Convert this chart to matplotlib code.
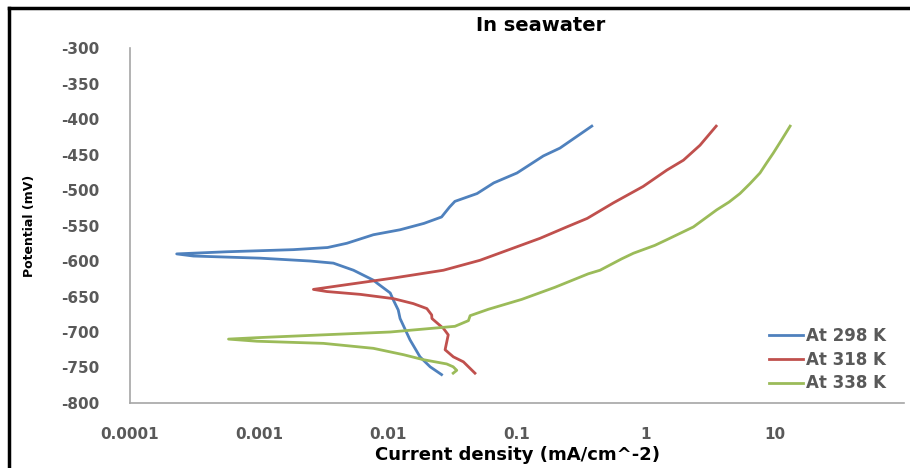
import matplotlib
matplotlib.use("Agg")
import matplotlib.pyplot as plt
from matplotlib.lines import Line2D

plt.rcParams['font.family'] = ['DejaVu Sans']
plt.rcParams['axes.unicode_minus'] = False

# At 298 K  (current density mA/cm^2, potential mV)
i_298 = [0.38, 0.215, 0.16, 0.10, 0.066, 0.049, 0.033, 0.030, 0.026, 0.019,
         0.0124, 0.0077, 0.0048, 0.0034, 0.00185, 0.00056, 0.00023, 0.00031,
         0.00102, 0.00248, 0.00377, 0.0054, 0.0077, 0.0082, 0.0104, 0.011,
         0.012, 0.0124, 0.0148, 0.0177, 0.0212, 0.026]
e_298 = [-410, -441, -452, -476, -490, -505, -516, -524, -538, -547,
         -556, -563, -575, -581, -584, -587, -590, -593,
         -596, -600, -603, -613, -627, -631, -645, -655,
         -669, -681, -711, -735, -749, -760]

# At 318 K
i_318 = [3.5, 2.62, 1.95, 1.45, 0.95, 0.56, 0.35, 0.243, 0.151, 0.0516,
         0.0269, 0.011, 0.0045, 0.00264, 0.00335, 0.0061, 0.011, 0.0157,
         0.020, 0.0218, 0.0219, 0.0269, 0.0293, 0.0277, 0.0321, 0.0384, 0.0472]
e_318 = [-410, -437, -458, -472, -495, -518, -540, -552, -568, -599,
         -613, -624, -634, -640, -643, -647, -653, -660,
         -667, -676, -681, -695, -704, -725, -735, -742, -758]

# At 338 K
i_338 = [13.1, 11.2, 9.7, 8.6, 7.65, 6.4, 5.35, 4.4, 3.53, 2.33, 1.45, 1.17,
         0.80, 0.647, 0.44, 0.357, 0.197, 0.109, 0.060, 0.0433, 0.042, 0.033,
         0.0104, 0.00315, 0.00096, 0.00058, 0.00096, 0.00315, 0.0077, 0.0132,
         0.0188, 0.0285, 0.032, 0.0341, 0.032]
e_338 = [-410, -430, -448, -462, -476, -491, -505, -517, -528, -552, -570, -578,
         -589, -597, -613, -618, -637, -654, -668, -677, -684, -692,
         -700, -704, -708, -710, -713, -716, -723, -732,
         -739, -745, -749, -754, -758]

x_ticks = [0.0001, 0.001, 0.01, 0.1, 1, 10]
x_labels = ['0.0001', '0.001', '0.01', '0.1', '1', '10']
y_ticks = list(range(-800, -299, 50))

fig = plt.figure(figsize=(9.1, 4.68), dpi=100)
ax = fig.add_axes([0.1429, 0.1389, 0.8505, 0.7585])

ax.plot(i_298, e_298, color='#4F81BD', lw=2.0, label='At 298 K')
ax.plot(i_318, e_318, color='#C0504D', lw=2.0, label='At 318 K')
ax.plot(i_338, e_338, color='#9BBB59', lw=2.0, label='At 338 K')

ax.set_xscale('log')
ax.set_xlim(0.0001, 100)
ax.set_ylim(-800, -300)
ax.set_xticks(x_ticks)
ax.set_xticklabels(x_labels)
ax.minorticks_off()
ax.set_yticks(y_ticks)

for s in ['top', 'right']:
    ax.spines[s].set_visible(False)
for s in ['left', 'bottom']:
    ax.spines[s].set_color('#A6A6A6')
    ax.spines[s].set_linewidth(1.2)

ax.tick_params(axis='both', length=0, labelsize=11, labelcolor='#595959')
ax.tick_params(axis='x', pad=17)
ax.tick_params(axis='y', pad=22)
for lab in ax.get_xticklabels() + ax.get_yticklabels():
    lab.set_fontweight('bold')

ax.set_title('In seawater', fontsize=14, fontweight='bold', pad=12, x=0.531)
ax.set_xlabel('Current density (mA/cm^-2)', fontsize=13, fontweight='bold', labelpad=3)
ax.set_ylabel('Potential (mV)', fontsize=9, fontweight='bold', labelpad=18)

leg = ax.legend(loc='upper left', bbox_to_anchor=(0.826, 0.215), frameon=False,
                fontsize=12, handlelength=2.0, handletextpad=0.2,
                labelspacing=0.35, borderpad=0, borderaxespad=0)
for t in leg.get_texts():
    t.set_color('#595959')
    t.set_fontweight('bold')

# screenshot frame on left and top
fig.add_artist(Line2D([0.0104, 0.0104], [0, 0.983], color='black', lw=2.5,
                      transform=fig.transFigure))
fig.add_artist(Line2D([0.0104, 1.0], [0.983, 0.983], color='black', lw=2.5,
                      transform=fig.transFigure))

fig.savefig('out.png', dpi=100)
